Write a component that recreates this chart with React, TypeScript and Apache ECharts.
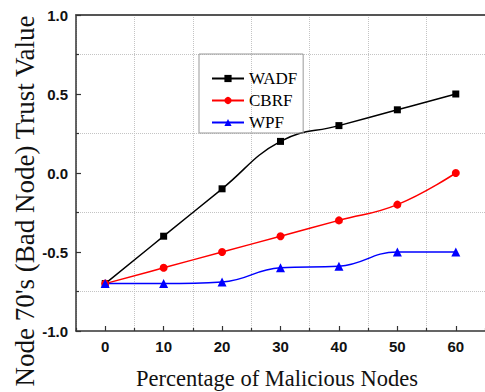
import React, { useEffect, useRef } from "react";
import * as echarts from "echarts";

const xValues = [0, 10, 20, 30, 40, 50, 60];
const xLabels = [0, 10, 20, 30, 40, 50, 60];
const wadf = [-0.7, -0.4, -0.1, 0.2, 0.3, 0.4, 0.5];
const cbrf = [-0.7, -0.6, -0.5, -0.4, -0.3, -0.2, 0.0];
const wpf = [-0.7, -0.7, -0.69, -0.6, -0.59, -0.5, -0.5];
const seriesNames = ["WADF", "CBRF", "WPF"];
const xTitle = "Percentage of Malicious Nodes";
const yTitle = "Node 70's (Bad Node) Trust Value";

const SERIF = "Liberation Serif";
const SANS = "Liberation Sans";

export default function App() {
  const ref = useRef<HTMLDivElement>(null);
  useEffect(() => {
    if (!ref.current) return;
    const chart = echarts.init(ref.current, null, { renderer: "svg" });
    const mk = (arr: number[]) => xValues.map((x, i) => [x, arr[i]]);
    const axisLine = { show: true, onZero: false, lineStyle: { color: "#333", width: 1.5 } };
    chart.setOption({
      animation: false,
      backgroundColor: "#fff",
      grid: { left: 76, top: 15, width: 412, height: 316 },
      legend: {
        left: 199,
        top: 54,
        orient: "vertical",
        data: seriesNames,
        borderColor: "#999",
        borderWidth: 1,
        padding: [16, 6, 2, 12],
        itemGap: 5,
        itemWidth: 32,
        itemHeight: 9,
        textStyle: { fontFamily: SERIF, fontSize: 17, color: "#000" },
      },
      xAxis: [
        {
          type: "value",
          min: -5,
          max: 65,
          interval: 10,
          position: "bottom",
          axisLine,
          axisTick: { show: true, inside: true, length: 3, lineStyle: { color: "#333", width: 1.2 } },
          minorTick: { show: true, splitNumber: 2, length: 5, lineStyle: { color: "#333", width: 1.2 } },
          splitLine: { show: true, lineStyle: { color: "#c4c4c4", type: "dotted", width: 1 } },
          minorSplitLine: { show: false },
          axisLabel: {
            show: true,
            customValues: xLabels,
            margin: 8,
            fontFamily: SANS,
            fontWeight: "bold",
            fontSize: 15,
            color: "#111",
            formatter: (v: number) => String(v),
          },
        },
        {
          type: "value",
          min: -5,
          max: 65,
          position: "top",
          axisLine: { show: true, onZero: false, lineStyle: { color: "#555", width: 2 } },
          axisTick: { show: false },
          axisLabel: { show: false },
          splitLine: { show: false },
        },
      ],
      yAxis: [
        {
          type: "value",
          min: -1,
          max: 1,
          interval: 0.5,
          axisLine,
          axisTick: { show: true, inside: true, length: 5, lineStyle: { color: "#333", width: 1.2 } },
          minorTick: { show: true, splitNumber: 2, length: 3, lineStyle: { color: "#333", width: 1.2 } },
          splitLine: { show: false },
          minorSplitLine: { show: true, lineStyle: { color: "#c4c4c4", type: "dotted", width: 1 } },
          axisLabel: {
            margin: 8,
            fontFamily: SANS,
            fontWeight: "bold",
            fontSize: 15,
            color: "#111",
            formatter: (v: number) => v.toFixed(1),
          },
        },
      ],
      graphic: [
        {
          type: "text",
          x: 277,
          y: 378,
          style: {
            text: xTitle,
            fontFamily: SERIF,
            fontSize: 22.5,
            fill: "#111",
            align: "center",
            verticalAlign: "middle",
          },
        },
        {
          type: "text",
          x: 25,
          y: 201,
          rotation: Math.PI / 2,
          style: {
            text: yTitle,
            fontFamily: SERIF,
            fontSize: 27,
            fill: "#111",
            align: "center",
            verticalAlign: "middle",
          },
        },
      ],
      series: [
        {
          name: seriesNames[0],
          type: "line",
          data: mk(wadf),
          smooth: 0.45,
          symbol: "rect",
          symbolSize: 7,
          itemStyle: { color: "#000" },
          lineStyle: { color: "#000", width: 1.5 },
        },
        {
          name: seriesNames[1],
          type: "line",
          data: mk(cbrf),
          smooth: 0.45,
          symbol: "circle",
          symbolSize: 8,
          itemStyle: { color: "#ff0000" },
          lineStyle: { color: "#ff0000", width: 1.5 },
        },
        {
          name: seriesNames[2],
          type: "line",
          data: mk(wpf),
          smooth: 0.45,
          symbol: "triangle",
          symbolSize: 9,
          itemStyle: { color: "#0000ff" },
          lineStyle: { color: "#0000ff", width: 1.5 },
        },
      ],
    });
    return () => chart.dispose();
  }, []);
  return (
    <div
      ref={ref}
      style={{ position: "fixed", left: 0, top: 0, width: 485, height: 392 }}
    />
  );
}
